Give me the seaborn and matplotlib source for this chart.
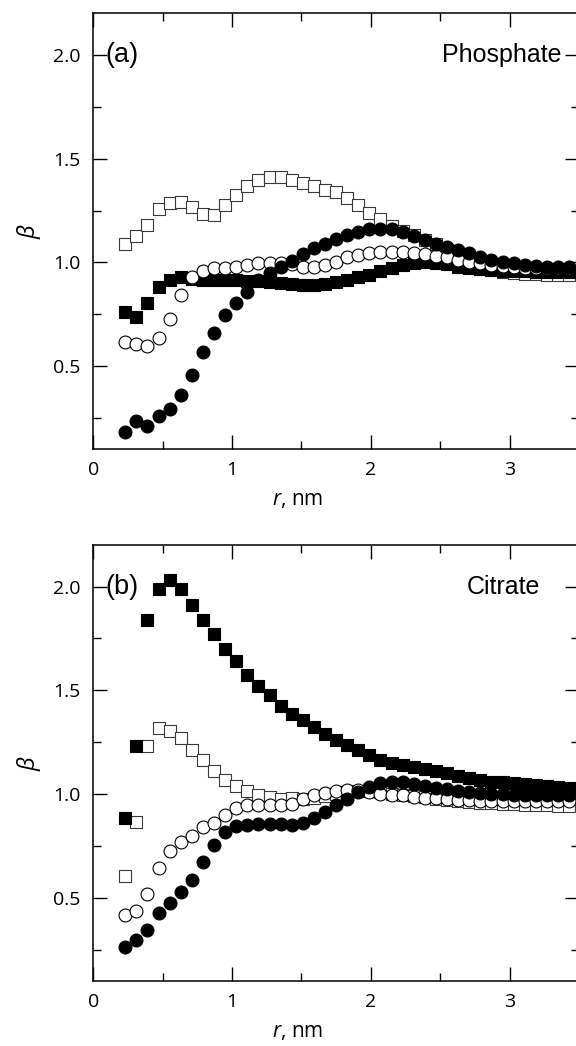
import numpy as np
import pandas as pd
import matplotlib
matplotlib.use("Agg")
import matplotlib.pyplot as plt
import seaborn as sns
from matplotlib.ticker import MultipleLocator, FixedLocator

# ---------------- data ----------------
r = [0.23, 0.31, 0.39, 0.47, 0.55, 0.63, 0.71, 0.79, 0.87, 0.95,
     1.03, 1.11, 1.19, 1.27, 1.35, 1.43, 1.51, 1.59, 1.67, 1.75,
     1.83, 1.91, 1.99, 2.07, 2.15, 2.23, 2.31, 2.39, 2.47, 2.55,
     2.63, 2.71, 2.79, 2.87, 2.95, 3.03, 3.11, 3.19, 3.27, 3.35, 3.43]

# Panel (a) Phosphate
a_open_sq = [1.091, 1.126, 1.180, 1.255, 1.287, 1.291, 1.267, 1.235, 1.227, 1.275,
             1.327, 1.367, 1.399, 1.412, 1.412, 1.399, 1.382, 1.366, 1.350, 1.340,
             1.308, 1.275, 1.238, 1.207, 1.175, 1.152, 1.131, 1.110, 1.090, 1.060,
             1.020, 0.990, 0.972, 0.962, 0.955, 0.948, 0.945, 0.943, 0.941, 0.940, 0.940]
a_fill_sq = [0.763, 0.738, 0.806, 0.883, 0.915, 0.931, 0.920, 0.915, 0.915, 0.915,
             0.915, 0.912, 0.910, 0.905, 0.900, 0.895, 0.890, 0.890, 0.895, 0.905,
             0.915, 0.928, 0.940, 0.958, 0.975, 0.988, 0.996, 1.000, 0.997, 0.990,
             0.980, 0.972, 0.966, 0.962, 0.960, 0.958, 0.957, 0.956, 0.955, 0.955, 0.955]
a_open_ci = [0.618, 0.607, 0.597, 0.637, 0.727, 0.843, 0.928, 0.960, 0.971, 0.974,
             0.979, 0.987, 0.995, 0.998, 0.995, 0.990, 0.976, 0.979, 0.988, 1.003,
             1.027, 1.035, 1.043, 1.051, 1.051, 1.051, 1.046, 1.040, 1.030, 1.024,
             1.011, 1.003, 0.995, 0.987, 0.982, 0.978, 0.975, 0.973, 0.972, 0.971, 0.971]
a_fill_ci = [0.181, 0.234, 0.213, 0.258, 0.293, 0.362, 0.458, 0.570, 0.659, 0.747,
             0.803, 0.859, 0.915, 0.947, 0.976, 1.008, 1.041, 1.070, 1.091, 1.115,
             1.131, 1.147, 1.159, 1.163, 1.159, 1.147, 1.126, 1.107, 1.088, 1.075,
             1.059, 1.043, 1.027, 1.014, 1.003, 0.995, 0.987, 0.981, 0.979, 0.976, 0.976]

# Panel (b) Citrate
b_open_sq = [0.604, 0.865, 1.232, 1.320, 1.304, 1.270, 1.213, 1.165, 1.113, 1.069,
             1.037, 1.013, 0.997, 0.986, 0.976, 0.981, 0.975, 0.980, 0.990, 1.000,
             1.010, 1.015, 1.015, 1.010, 1.000, 0.995, 0.990, 0.985, 0.978, 0.972,
             0.966, 0.962, 0.958, 0.955, 0.952, 0.950, 0.948, 0.946, 0.945, 0.944, 0.943]
b_fill_sq = [0.885, 1.230, 1.840, 1.990, 2.030, 1.990, 1.910, 1.840, 1.770, 1.700,
             1.640, 1.575, 1.520, 1.475, 1.425, 1.385, 1.355, 1.325, 1.290, 1.260,
             1.235, 1.210, 1.190, 1.165, 1.150, 1.140, 1.130, 1.120, 1.110, 1.100,
             1.088, 1.077, 1.069, 1.060, 1.056, 1.052, 1.048, 1.043, 1.037, 1.033, 1.029]
b_open_ci = [0.416, 0.436, 0.519, 0.644, 0.724, 0.767, 0.800, 0.840, 0.860, 0.900,
             0.933, 0.945, 0.949, 0.949, 0.945, 0.952, 0.978, 0.993, 1.005, 1.013,
             1.020, 1.020, 1.010, 1.000, 0.997, 0.993, 0.988, 0.983, 0.980, 0.976,
             0.972, 0.970, 0.968, 0.966, 0.965, 0.965, 0.964, 0.964, 0.964, 0.964, 0.964]
b_fill_ci = [0.262, 0.295, 0.344, 0.425, 0.476, 0.527, 0.585, 0.671, 0.756, 0.815,
             0.844, 0.852, 0.857, 0.857, 0.855, 0.852, 0.862, 0.885, 0.915, 0.945,
             0.975, 1.010, 1.035, 1.052, 1.060, 1.058, 1.050, 1.040, 1.030, 1.022,
             1.013, 1.008, 1.004, 1.000, 0.998, 0.997, 0.996, 0.995, 0.995, 0.994, 0.994]

panel_labels = ["(a)", "(b)"]
panel_names = ["Phosphate", "Citrate"]
x_ticks = [0, 1, 2, 3]
y_ticks = [0.5, 1.0, 1.5, 2.0]

# ---------------- style ----------------
sns.set_style("ticks")
plt.rcParams["font.family"] = ["Open Sans", "DejaVu Sans"]
plt.rcParams["mathtext.fontset"] = "custom"
plt.rcParams["mathtext.it"] = "Open Sans:italic"
for key in ["text.color", "axes.labelcolor", "xtick.color", "ytick.color",
            "axes.edgecolor"]:
    plt.rcParams[key] = "black"

fig = plt.figure(figsize=(5.76, 10.46), dpi=100)
ax_a = fig.add_axes([0.162, 0.5705, 0.843, 0.4168])
ax_b = fig.add_axes([0.162, 0.0624, 0.843, 0.4165])

series_style = [
    # (key, marker, face, edge, size)
    ("open_sq", "s", "white", "#3a3a3a", 74),
    ("fill_sq", "s", "black", "black", 74),
    ("open_ci", "o", "white", "black", 86),
    ("fill_ci", "o", "black", "black", 86),
]

panels = [
    (ax_a, {"open_sq": a_open_sq, "fill_sq": a_fill_sq,
            "open_ci": a_open_ci, "fill_ci": a_fill_ci}),
    (ax_b, {"open_sq": b_open_sq, "fill_sq": b_fill_sq,
            "open_ci": b_open_ci, "fill_ci": b_fill_ci}),
]

for idx, (ax, data) in enumerate(panels):
    for z, (key, marker, face, edge, size) in enumerate(series_style):
        df = pd.DataFrame({"r": r, "beta": data[key]})
        sns.scatterplot(data=df, x="r", y="beta", marker=marker, s=size,
                        color=face, edgecolor=edge, linewidth=0.8,
                        ax=ax, zorder=2 + z, legend=False)
    ax.set_xlim(0, 3.5)
    ax.set_ylim(0.1, 2.2)
    ax.xaxis.set_major_locator(FixedLocator(x_ticks))
    ax.xaxis.set_minor_locator(MultipleLocator(0.5))
    ax.yaxis.set_major_locator(FixedLocator(y_ticks))
    ax.yaxis.set_minor_locator(MultipleLocator(0.25))
    ax.set_xticklabels([str(t) for t in x_ticks])
    ax.set_yticklabels([f"{t:.1f}" for t in y_ticks])
    ax.tick_params(which="both", direction="in", top=True, right=True,
                   color="black", width=1.0)
    ax.tick_params(which="major", length=10, labelsize=14)
    ax.tick_params(axis="y", which="major", pad=9.5)
    ax.tick_params(axis="x", which="major", pad=8.5)
    ax.tick_params(which="minor", length=5.5)
    for sp in ax.spines.values():
        sp.set_color("black")
        sp.set_linewidth(1.1)
    ax.set_xlabel(r"$\mathit{r}$, nm", fontsize=15, labelpad=6.5)
    ax.xaxis.set_label_coords(0.421, -0.092)
    ax.set_ylabel(r"$\mathit{\beta}$", fontsize=17, labelpad=7)
    ax.text(0.09, 1.965, panel_labels[idx], fontsize=19.5, family="Liberation Sans",
            ha="left", va="baseline", zorder=10)
    ax.text(3.375 if idx == 0 else 3.22, 1.965, panel_names[idx], fontsize=18,
            family="Liberation Sans", ha="right", va="baseline", zorder=10)
    ax.grid(False)

fig.savefig("out.png", dpi=100)
